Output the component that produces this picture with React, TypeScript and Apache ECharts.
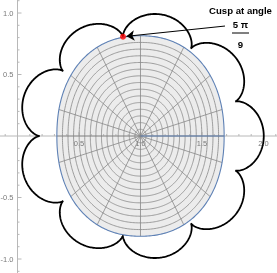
import React, { useEffect, useRef } from "react";
import * as echarts from "echarts";

// ---------- axes ----------
const xRange = [-0.1423, 2.1098];
const yRange = [-1.1138, 1.1057];
const xMajorTicks = [0.5, 1.0, 1.5, 2.0];
const xMinorTicks = [-0.1, 0.1, 0.2, 0.3, 0.4, 0.6, 0.7, 0.8, 0.9, 1.1, 1.2, 1.3, 1.4, 1.6, 1.7, 1.8, 1.9, 2.1];
const yMajorTicks = [-1.0, -0.5, 0.5, 1.0];
const yMinorTicks = [-1.1, -0.9, -0.8, -0.7, -0.6, -0.4, -0.3, -0.2, -0.1, 0.1, 0.2, 0.3, 0.4, 0.6, 0.7, 0.8, 0.9, 1.1];

// ---------- curve parameters ----------
const centre = [1.0, 0.0];
const cuspCount = 9;
const cuspRadius = 0.82;
const labelledCuspAngle = (5 * Math.PI) / 9;
const ovalHalfWidth = 0.68;
const ovalHalfHeight = 0.815;
const ovalExponent = 2.2;
const meshRings = 15;
const spokeAnglesDeg = [0, 18, 41, 64, 90, 116, 139, 162, 180, 198, 221, 244, 270, 296, 319, 342];

// ---------- annotation ----------
const annotationTitle = "Cusp at angle";
const annotationNumerator = "5 π";
const annotationDenominator = "9";
const arrowStart = [1.687, 0.894];

const FONT = "Liberation Sans, Arial, Helvetica, sans-serif";

const rollRadius = cuspRadius / cuspCount;
const epicycloid: number[][] = [];
{
  const N = 1440;
  for (let i = 0; i <= N; i++) {
    const t = (2 * Math.PI * i) / N;
    const a = t + labelledCuspAngle;
    const b = (cuspCount + 1) * t + labelledCuspAngle;
    epicycloid.push([
      centre[0] + (cuspRadius + rollRadius) * Math.cos(a) - rollRadius * Math.cos(b),
      centre[1] + (cuspRadius + rollRadius) * Math.sin(a) - rollRadius * Math.sin(b),
    ]);
  }
}
const cuspPoint = [
  centre[0] + cuspRadius * Math.cos(labelledCuspAngle),
  centre[1] + cuspRadius * Math.sin(labelledCuspAngle),
];
const arrowTip = (() => {
  const dx = arrowStart[0] - cuspPoint[0];
  const dy = arrowStart[1] - cuspPoint[1];
  const len = Math.hypot(dx, dy);
  const off = 0.028;
  return [cuspPoint[0] + (dx / len) * off, cuspPoint[1] + (dy / len) * off];
})();

function ovalPoint(u: number, s: number) {
  const c = Math.cos(u);
  const si = Math.sin(u);
  const p = 2 / ovalExponent;
  return [
    centre[0] + s * ovalHalfWidth * Math.sign(c) * Math.pow(Math.abs(c), p),
    centre[1] + s * ovalHalfHeight * Math.sign(si) * Math.pow(Math.abs(si), p),
  ];
}
function ovalRadius(theta: number) {
  const n = ovalExponent;
  const v =
    Math.pow(Math.abs(Math.cos(theta)) / ovalHalfWidth, n) +
    Math.pow(Math.abs(Math.sin(theta)) / ovalHalfHeight, n);
  return 1 / Math.pow(v, 1 / n);
}

export default function App() {
  const ref = useRef<HTMLDivElement>(null);
  useEffect(() => {
    if (!ref.current) return;
    const chart = echarts.init(ref.current, null, { renderer: "svg" });
    const axisColor = "#b8b8b8";
    const labelColor = "#7a7a7a";
    const meshColor = "#888888";
    const ringPoints = (api: any, s: number) => {
      const samples = 360;
      const pts: number[][] = [];
      for (let i = 0; i < samples; i++) pts.push(api.coord(ovalPoint((2 * Math.PI * i) / samples, s)));
      return pts;
    };
    const option: any = {
      animation: false,
      grid: { left: 0, right: 0, top: 0, bottom: 0, containLabel: false, outerBoundsMode: "none" },
      xAxis: { type: "value", min: xRange[0], max: xRange[1], show: false },
      yAxis: { type: "value", min: yRange[0], max: yRange[1], show: false },
      series: [
        // oval fill
        {
          type: "custom",
          z: 1,
          data: [centre],
          encode: { x: 0, y: 1 },
          silent: true,
          renderItem: (params: any, api: any) => ({
            type: "polygon",
            shape: { points: ringPoints(api, 1) },
            style: { fill: "#ececec", stroke: null },
          }),
        },
        // axes, ticks, tick labels
        {
          type: "custom",
          z: 2,
          data: [[0, 0]],
          encode: { x: 0, y: 1 },
          silent: true,
          renderItem: (params: any, api: any) => {
            const ch: any[] = [];
            const xa = api.coord([xRange[0], 0]);
            const xb = api.coord([xRange[1], 0]);
            const ya = api.coord([0, yRange[0]]);
            const yb = api.coord([0, yRange[1]]);
            const ln = (x1: number, y1: number, x2: number, y2: number) =>
              ch.push({ type: "line", shape: { x1, y1, x2, y2 }, style: { stroke: axisColor, lineWidth: 1 } });
            ln(xa[0], xa[1], xb[0], xb[1]);
            ln(ya[0], ya[1], yb[0], yb[1]);
            xMinorTicks.forEach((v) => {
              const p = api.coord([v, 0]);
              ln(p[0], p[1], p[0], p[1] - 2);
            });
            yMinorTicks.forEach((v) => {
              const p = api.coord([0, v]);
              ln(p[0], p[1], p[0] + 2, p[1]);
            });
            xMajorTicks.forEach((v) => {
              const p = api.coord([v, 0]);
              ln(p[0], p[1], p[0], p[1] - 4);
              ch.push({
                type: "text",
                style: {
                  text: v.toFixed(1),
                  x: p[0],
                  y: p[1] + 3,
                  align: "center",
                  verticalAlign: "top",
                  fontSize: 7.5,
                  fontFamily: FONT,
                  fill: labelColor,
                },
              });
            });
            yMajorTicks.forEach((v) => {
              const p = api.coord([0, v]);
              ln(p[0], p[1], p[0] + 4, p[1]);
              ch.push({
                type: "text",
                style: {
                  text: v.toFixed(1),
                  x: p[0] - 4,
                  y: p[1],
                  align: "right",
                  verticalAlign: "middle",
                  fontSize: 7.5,
                  fontFamily: FONT,
                  fill: labelColor,
                },
              });
            });
            return { type: "group", children: ch };
          },
        },
        // mesh lines + boundary
        {
          type: "custom",
          z: 3,
          data: [centre],
          encode: { x: 0, y: 1 },
          silent: true,
          renderItem: (params: any, api: any) => {
            const children: any[] = [];
            for (let k = 1; k < meshRings; k++) {
              children.push({
                type: "polygon",
                shape: { points: ringPoints(api, k / meshRings) },
                style: { fill: null, stroke: meshColor, lineWidth: 0.8 },
              });
            }
            const c = api.coord(centre);
            spokeAnglesDeg.forEach((d) => {
              const th = (d * Math.PI) / 180;
              const r = ovalRadius(th);
              const e = api.coord([centre[0] + r * Math.cos(th), centre[1] + r * Math.sin(th)]);
              children.push({
                type: "line",
                shape: { x1: c[0], y1: c[1], x2: e[0], y2: e[1] },
                style: { stroke: meshColor, lineWidth: 0.8 },
              });
            });
            children.push({
              type: "polygon",
              shape: { points: ringPoints(api, 1) },
              style: { fill: null, stroke: "#5e81b5", lineWidth: 1.1 },
            });
            return { type: "group", children };
          },
        },
        {
          type: "line",
          z: 5,
          data: [centre, [centre[0] + ovalHalfWidth, centre[1]]],
          showSymbol: false,
          lineStyle: { color: "#5e81b5", width: 1 },
          silent: true,
        },
        {
          type: "line",
          z: 4,
          data: epicycloid,
          showSymbol: false,
          smooth: false,
          lineStyle: { color: "#000000", width: 1.8 },
          silent: true,
        },
        {
          type: "scatter",
          z: 6,
          data: [cuspPoint],
          symbolSize: 6,
          itemStyle: { color: "#ff0000" },
          silent: true,
          markLine: {
            silent: true,
            symbol: ["none", "arrow"],
            symbolSize: 8,
            label: { show: false },
            lineStyle: { color: "#000000", width: 1, type: "solid" },
            data: [[{ coord: arrowStart }, { coord: arrowTip }]],
          },
        },
      ],
      graphic: [
        {
          type: "text",
          x: 240.5,
          y: 10,
          style: {
            text: annotationTitle,
            fontSize: 9.6,
            fontWeight: "bold",
            fontFamily: FONT,
            fill: "#000",
            align: "center",
            verticalAlign: "middle",
          },
        },
        {
          type: "text",
          x: 240.5,
          y: 24,
          style: {
            text: annotationNumerator,
            fontSize: 9.6,
            fontWeight: "bold",
            fontFamily: FONT,
            fill: "#000",
            align: "center",
            verticalAlign: "middle",
          },
        },
        {
          type: "line",
          shape: { x1: 232, y1: 33, x2: 249, y2: 33 },
          style: { stroke: "#000", lineWidth: 1 },
        },
        {
          type: "text",
          x: 240.5,
          y: 44,
          style: {
            text: annotationDenominator,
            fontSize: 9.6,
            fontWeight: "bold",
            fontFamily: FONT,
            fill: "#000",
            align: "center",
            verticalAlign: "middle",
          },
        },
      ],
    };
    chart.setOption(option);
    return () => chart.dispose();
  }, []);
  return (
    <div
      ref={ref}
      style={{ position: "fixed", left: 0, top: 0, width: 277, height: 273 }}
    />
  );
}
